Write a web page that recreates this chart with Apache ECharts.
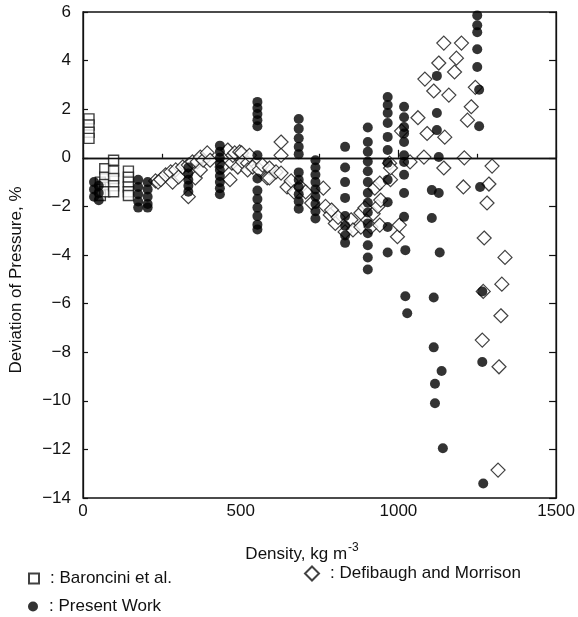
<!DOCTYPE html>
<html>
<head>
<meta charset="utf-8">
<script src="https://cdn.jsdelivr.net/npm/echarts@6/dist/echarts.min.js"></script>
<style>
html,body{margin:0;padding:0;background:#fff;}
#chart{width:578px;height:617px;}
</style>
</head>
<body>
<div id="chart"></div>
<script>
// Density (kg m^-3), deviation of pressure (%)
const baronciniData = [
  [19, 1.6], [19, 1.35], [19, 1.05], [19, 0.8],
  [55, -1.0], [55, -1.3], [55, -1.55],
  [69, -0.45], [69, -0.8], [69, -1.1], [69, -1.4],
  [97, -0.1], [97, -0.55], [97, -0.85], [97, -1.15], [97, -1.4],
  [144, -0.55], [144, -0.8], [144, -1.0], [144, -1.2], [144, -1.4], [144, -1.55]
];

const presentWorkData = [
  [35, -1.0], [35, -1.3], [35, -1.6],
  [50, -1.15], [50, -1.45], [50, -1.75],
  [175, -0.9], [175, -1.2], [175, -1.5], [175, -1.8], [175, -2.05],
  [205, -1.0], [205, -1.3], [205, -1.6], [205, -1.9], [205, -2.05],
  [334, -0.4], [334, -0.65], [334, -0.9], [334, -1.15], [334, -1.4],
  [434, 0.5], [434, 0.25], [434, 0.0], [434, -0.25], [434, -0.5], [434, -0.75], [434, -1.0], [434, -1.25], [434, -1.5],
  [553, 2.3], [553, 2.05], [553, 1.8], [553, 1.55], [553, 1.3], [553, 0.1], [553, -0.85], [553, -1.35], [553, -1.7], [553, -2.05], [553, -2.4], [553, -2.75], [553, -2.95],
  [684, 1.6], [684, 1.2], [684, 0.8], [684, 0.45], [684, 0.15], [684, -0.6], [684, -0.9], [684, -1.2], [684, -1.5], [684, -1.8], [684, -2.1],
  [737, -0.1], [737, -0.4], [737, -0.7], [737, -1.0], [737, -1.3], [737, -1.6], [737, -1.9], [737, -2.2], [737, -2.5],
  [831, 0.45], [831, -0.4], [831, -1.0], [831, -1.65], [831, -2.4], [831, -2.8], [831, -3.2], [831, -3.5],
  [903, 1.25], [903, 0.65], [903, 0.25], [903, -0.15], [903, -0.55], [903, -1.0], [903, -1.45], [903, -1.85], [903, -2.25], [903, -2.7], [903, -3.1], [903, -3.6], [903, -4.1], [903, -4.6],
  [966, 2.5], [966, 2.17], [966, 1.84], [966, 1.43], [966, 0.86], [966, 0.32], [966, -0.2], [966, -0.9], [966, -1.83], [966, -2.85], [966, -3.9],
  [1018, 2.1], [1018, 1.67], [1018, 1.27], [1018, 1.0], [1018, 0.65], [1018, 0.1], [1018, -0.17], [1018, -0.7], [1018, -1.45], [1018, -2.43], [1022, -3.8], [1022, -5.7], [1028, -6.4],
  [1122, 3.37], [1122, 1.84], [1122, 1.14], [1128, 0.03], [1106, -1.33], [1128, -1.45], [1106, -2.48], [1131, -3.9], [1112, -5.75], [1112, -7.8], [1137, -8.77], [1116, -9.3], [1116, -10.1], [1141, -11.95],
  [1250, 5.86], [1250, 5.45], [1250, 5.17], [1250, 4.47], [1250, 3.74], [1256, 2.8], [1256, 1.3], [1259, -1.2], [1266, -5.5], [1266, -8.4], [1269, -13.4]
];

const defibaughData = [
  [230, -0.95], [238, -1.0], [247, -0.9], [262, -0.7], [278, -0.58], [284, -1.0], [294, -0.5], [303, -0.79],
  [316, -0.38], [334, -0.3], [334, -1.6], [347, -0.17], [356, -0.83], [362, -0.17], [372, 0.03], [372, -0.5],
  [381, -0.1], [394, 0.2], [403, -0.1], [441, -0.38], [459, 0.32], [466, -0.9], [472, -0.22], [475, 0.1],
  [481, 0.2], [491, -0.38], [497, 0.24], [503, 0.2], [506, -0.17], [522, -0.22], [528, 0.1], [522, -0.5],
  [538, -0.38], [559, -0.5], [569, -0.3], [584, -0.83], [591, -0.42], [591, -0.83], [612, -0.58],
  [628, 0.65], [628, 0.1], [628, -0.63], [647, -1.2], [660, -0.95], [669, -1.4], [690, -1.2], [706, -1.4],
  [725, -1.86], [762, -1.25], [769, -2.0], [784, -2.35], [788, -2.15], [800, -2.7], [809, -2.45],
  [831, -3.05], [850, -2.55], [856, -2.97], [881, -2.27], [881, -2.85], [894, -2.06], [913, -2.85],
  [920, -2.3], [925, -1.25], [935, -2.0], [941, -1.04], [941, -2.77], [944, -1.74], [972, -0.22],
  [975, -0.9], [975, -0.42], [997, -3.25], [1003, -2.77], [1010, 1.1], [1037, -0.17], [1062, 1.65],
  [1081, 0.03], [1084, 3.24], [1091, 1.0], [1112, 2.75], [1128, 3.9], [1144, 4.72], [1144, -0.42],
  [1147, 0.85], [1160, 2.58], [1178, 3.53], [1184, 4.1], [1200, 4.72], [1206, -1.2], [1209, 0.0],
  [1219, 1.55], [1231, 2.1], [1244, 2.9], [1266, -7.5], [1269, -5.5], [1272, -3.3], [1281, -1.86],
  [1287, -1.08], [1297, -0.34], [1316, -12.85], [1319, -8.6], [1325, -6.5], [1328, -5.2], [1338, -4.1]
];

const seriesNames = ['Baroncini et al.', 'Present Work', 'Defibaugh and Morrison'];
const xTitle = 'Density, kg m';
const xTitleSup = '-3';
const yTitle = 'Deviation of Pressure, %';

const FONT = 'Liberation Sans';
const chart = echarts.init(document.getElementById('chart'), null, {renderer: 'canvas'});

const minusFmt = v => (v < 0 ? '\u2212' + Math.abs(v) : String(v));

const legendText = {fontFamily: FONT, fontSize: 17, color: '#111', padding: [0, 0, 0, 6]};

chart.setOption({
  animation: false,
  backgroundColor: '#fff',
  textStyle: {fontFamily: FONT},
  grid: {left: 81, right: 17, top: 12, bottom: 119, show: true, borderColor: '#111', borderWidth: 1.3, backgroundColor: 'transparent'},
  legend: [
    {data: [seriesNames[0]], left: 28, top: 570, padding: 0, itemWidth: 10, itemHeight: 10,
     formatter: n => ': ' + n, textStyle: legendText, selectedMode: false},
    {data: [seriesNames[1]], left: 28, top: 598, padding: 0, itemWidth: 10, itemHeight: 10,
     formatter: n => ': ' + n, textStyle: legendText, selectedMode: false},
    {data: [seriesNames[2]], left: 304, top: 565, padding: 0, itemWidth: 14, itemHeight: 14,
     formatter: n => ': ' + n, textStyle: legendText, selectedMode: false}
  ],
  xAxis: {
    type: 'value', min: 0, max: 1500, interval: 500,
    name: xTitle + '{sup|' + xTitleSup + '}',
    nameLocation: 'middle', nameGap: 44,
    nameTextStyle: {fontFamily: FONT, fontSize: 17, color: '#111', padding: [0, 35, 0, 0],
      rich: {sup: {fontFamily: FONT, fontSize: 12, color: '#111', verticalAlign: 'top', padding: [0, 0, 12, 1]}}},
    axisLine: {show: true, lineStyle: {color: '#111', width: 1.3}},
    axisTick: {show: true, inside: true, length: 8, lineStyle: {color: '#111', width: 1.2}},
    minorTick: {show: true, splitNumber: 2, length: 4, lineStyle: {color: '#111', width: 1.2}},
    axisLabel: {fontFamily: FONT, fontSize: 17, color: '#111', margin: 5, formatter: v => String(v)},
    splitLine: {show: false}
  },
  yAxis: [
    {
      type: 'value', min: -14, max: 6, interval: 2,
      name: yTitle, nameLocation: 'middle', nameGap: 58, nameRotate: 90,
      nameTextStyle: {fontFamily: FONT, fontSize: 17, color: '#111', padding: [0, 50, 0, 0]},
      axisLine: {show: true, lineStyle: {color: '#111', width: 1.3}},
      axisTick: {show: true, inside: true, length: 5, lineStyle: {color: '#111', width: 1.2}},
      axisLabel: {fontFamily: FONT, fontSize: 17, color: '#111', margin: 12, formatter: minusFmt},
      splitLine: {show: false}
    },
    {
      type: 'value', min: -14, max: 6, interval: 2, position: 'right',
      axisLine: {show: true, lineStyle: {color: '#111', width: 1.3}},
      axisTick: {show: true, inside: true, length: 7, lineStyle: {color: '#111', width: 1.2}},
      axisLabel: {show: false},
      splitLine: {show: false}
    }
  ],
  series: [
    {
      name: seriesNames[0], type: 'scatter', data: baronciniData,
      symbol: 'rect', symbolSize: [10, 10], z: 3,
      itemStyle: {color: '#fff', borderColor: '#111', borderWidth: 1.4},
      markLine: {
        silent: true, symbol: ['none', 'none'], label: {show: false},
        lineStyle: {color: '#111', width: 1.3, type: 'solid'},
        data: [{yAxis: 0}]
      }
    },
    {
      name: seriesNames[2], type: 'scatter', data: defibaughData,
      symbol: 'diamond', symbolSize: [14, 14], z: 4,
      itemStyle: {color: '#fff', borderColor: '#111', borderWidth: 1.2}
    },
    {
      name: seriesNames[1], type: 'scatter', data: presentWorkData,
      symbol: 'circle', symbolSize: 10, z: 5,
      itemStyle: {color: '#000', borderColor: '#000', borderWidth: 0}
    }
  ]
});
</script>
</body>
</html>
